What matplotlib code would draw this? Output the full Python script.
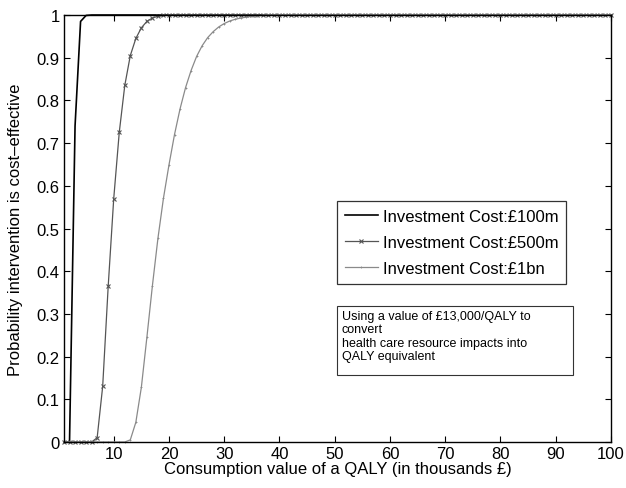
import numpy as np
import matplotlib
matplotlib.use("Agg")
import matplotlib.pyplot as plt
from matplotlib.patches import Rectangle

plt.rcParams['font.family'] = ['Liberation Sans', 'DejaVu Sans']

# consumption value of a QALY (thousands of pounds)
wtp = list(range(1, 101))

# probability cost-effective
p_100m = [0, 0, 0.74, 0.985, 0.999] + [1.0] * 95
p_500m = [0] * 6 + [0.01, 0.13, 0.365, 0.57, 0.725, 0.835, 0.905, 0.945,
                    0.97, 0.985, 0.993, 0.997, 0.999] + [1.0] * 81
p_1bn = [0] * 12 + [0.005, 0.046, 0.128, 0.245, 0.366, 0.477, 0.571, 0.649,
                    0.72, 0.78, 0.83, 0.87, 0.903, 0.928, 0.947, 0.961,
                    0.972, 0.98, 0.986, 0.99, 0.993, 0.995, 0.997, 0.998,
                    0.999] + [1.0] * 63

labels = ['Investment Cost:\u00a3100m', 'Investment Cost:\u00a3500m',
          'Investment Cost:\u00a31bn']
note = ('Using a value of \u00a313,000/QALY to\nconvert\n'
        'health care resource impacts into\nQALY equivalent')

W, H = 626, 489
fig = plt.figure(figsize=(W / 100, H / 100), dpi=100)
ax = fig.add_axes([64 / W, 1 - 443 / H, 547 / W, 427 / H])

ax.plot(wtp, p_100m, color='black', lw=1.2, label=labels[0], clip_on=False)
ax.plot(wtp, p_500m, color='#555555', lw=0.9, marker='x', ms=3.2, mew=0.8,
        label=labels[1], clip_on=False)
ax.plot(wtp, p_1bn, color='#8a8a8a', lw=0.9, marker='+', ms=2.0, mew=0.6,
        label=labels[2], clip_on=False)

ax.set_xlim(1, 100)
ax.set_ylim(0, 1)
ax.set_xticks(range(10, 101, 10))
ax.set_yticks(np.arange(0, 1.01, 0.1))
ax.set_yticklabels(['0', '0.1', '0.2', '0.3', '0.4', '0.5', '0.6', '0.7',
                    '0.8', '0.9', '1'])
ax.tick_params(direction='in', top=True, right=True, labelsize=12,
               length=4, width=0.8, pad=3)
for s in ax.spines.values():
    s.set_linewidth(1.0)

ax.set_xlabel('Consumption value of a QALY (in thousands \u00a3)', fontsize=12,
              labelpad=0)
ax.set_ylabel('Probability intervention is cost\u2013effective', fontsize=12,
              labelpad=10)

leg = ax.legend(loc='upper left', bbox_to_anchor=(337 / W, 1 - 202 / H),
                bbox_transform=fig.transFigure, fontsize=12,
                frameon=True, fancybox=False, borderaxespad=0,
                handlelength=2.0, handletextpad=0.3, labelspacing=0.68,
                borderpad=0.45)
leg.get_frame().set_edgecolor('black')
leg.get_frame().set_linewidth(0.9)

fig.patches.append(Rectangle((337 / W, 1 - 376 / H), 236 / W, 69 / H,
                             transform=fig.transFigure, fill=False,
                             edgecolor='#333333', lw=0.8))
fig.text(342 / W, 1 - 311 / H, note, fontsize=9, va='top', ha='left',
         linespacing=1.15)

fig.savefig('out.png', dpi=100)
